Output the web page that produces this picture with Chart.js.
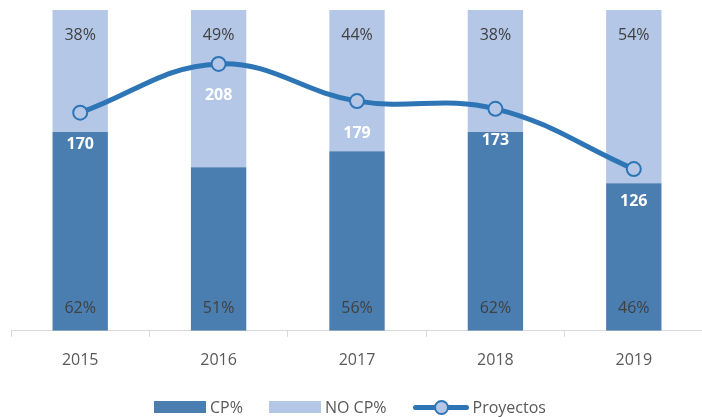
<!DOCTYPE html>
<html>
<head>
<meta charset="utf-8">
<script src="https://cdn.jsdelivr.net/npm/chart.js@4"></script>
<style>
  body { margin: 0; background: #fff; font-family: "Open Sans", sans-serif; }
  #wrap { position: relative; width: 702px; height: 417px; overflow: hidden; }
  #box { position: absolute; left: 0; top: 0; width: 712px; height: 417px; }
  #legend { position: absolute; top: 396px; left: 154px; display: flex; align-items: center;
            font-size: 16px; color: #595959; line-height: 22px; }
  .item { display: flex; align-items: center; margin-right: 26px; }
  .sw { width: 52px; height: 12px; margin-right: 4px; }
  .ln { position: relative; width: 56px; height: 16px; margin-right: 4px; }
  .ln::before { content: ''; position: absolute; left: 0; right: 0; top: 6px; height: 5px; background: #2E75B6; border-radius: 3px; }
  .ln::after { content: ''; position: absolute; left: 21px; top: 1px; width: 11px; height: 11px; border-radius: 50%;
               background: #B4C7E7; border: 2px solid #2E75B6; }
</style>
</head>
<body>
<div id="wrap">
  <div id="box"><canvas id="chart"></canvas></div>
  <div id="legend">
    <div class="item"><div class="sw" style="background:#4A7EB0"></div>CP%</div>
    <div class="item"><div class="sw" style="background:#B4C7E7"></div>NO CP%</div>
    <div class="item"><div class="ln"></div>Proyectos</div>
  </div>
</div>
<script>
const years = ['2015', '2016', '2017', '2018', '2019'];
const cpPct = [62, 51, 56, 62, 46];
const noCpPct = [38, 49, 44, 38, 54];
const proyectos = [170, 208, 179, 173, 126];

const DARK = '#4A7EB0';
const LIGHT = '#B4C7E7';
const LINE = '#2E75B6';

// percent labels inside bars, value labels under line points
const labelPlugin = {
  id: 'labels',
  afterDatasetsDraw(chart) {
    const ctx = chart.ctx;
    ctx.save();
    ctx.textAlign = 'center';
    ctx.textBaseline = 'middle';
    const cpMeta = chart.getDatasetMeta(0);
    const noMeta = chart.getDatasetMeta(1);
    ctx.font = '16px "Open Sans"';
    ctx.fillStyle = '#404040';
    cpMeta.data.forEach((bar, i) => {
      ctx.fillText(cpPct[i] + '%', bar.x, bar.base - 22);
    });
    noMeta.data.forEach((bar, i) => {
      ctx.fillText(noCpPct[i] + '%', bar.x, bar.y + 25);
    });
    const lineMeta = chart.getDatasetMeta(2);
    ctx.font = 'bold 16px "Open Sans"';
    ctx.fillStyle = '#ffffff';
    lineMeta.data.forEach((pt, i) => {
      ctx.fillText(proyectos[i], pt.x, pt.y + 32);
    });
    ctx.restore();
  }
};

new Chart(document.getElementById('chart'), {
  type: 'bar',
  data: {
    labels: years,
    datasets: [
      { label: 'CP%', data: cpPct, backgroundColor: DARK, yAxisID: 'y', order: 2,
        barPercentage: 0.4, categoryPercentage: 1 },
      { label: 'NO CP%', data: noCpPct, backgroundColor: LIGHT, yAxisID: 'y', order: 2,
        barPercentage: 0.4, categoryPercentage: 1 },
      { type: 'line', label: 'Proyectos', data: proyectos, yAxisID: 'y1', order: 1,
        borderColor: LINE, borderWidth: 5, tension: 0.4,
        pointRadius: 7, pointBorderWidth: 2, pointBackgroundColor: LIGHT, pointBorderColor: LINE }
    ]
  },
  options: {
    responsive: true,
    maintainAspectRatio: false,
    animation: false,
    layout: { padding: { top: 10, left: 11, right: 4, bottom: 33 } },
    plugins: { legend: { display: false }, tooltip: { enabled: false } },
    scales: {
      x: {
        stacked: true,
        grid: { offset: true, drawOnChartArea: false, tickLength: 6, color: '#D9D9D9', lineWidth: 1 },
        border: { color: '#D9D9D9', width: 1 },
        ticks: { color: '#595959', font: { family: 'Open Sans', size: 16 }, padding: 14 }
      },
      y: { stacked: true, min: 0, max: 100, display: false },
      y1: { min: 0, max: 250, display: false, position: 'right' }
    }
  },
  plugins: [labelPlugin]
});
</script>
</body>
</html>
